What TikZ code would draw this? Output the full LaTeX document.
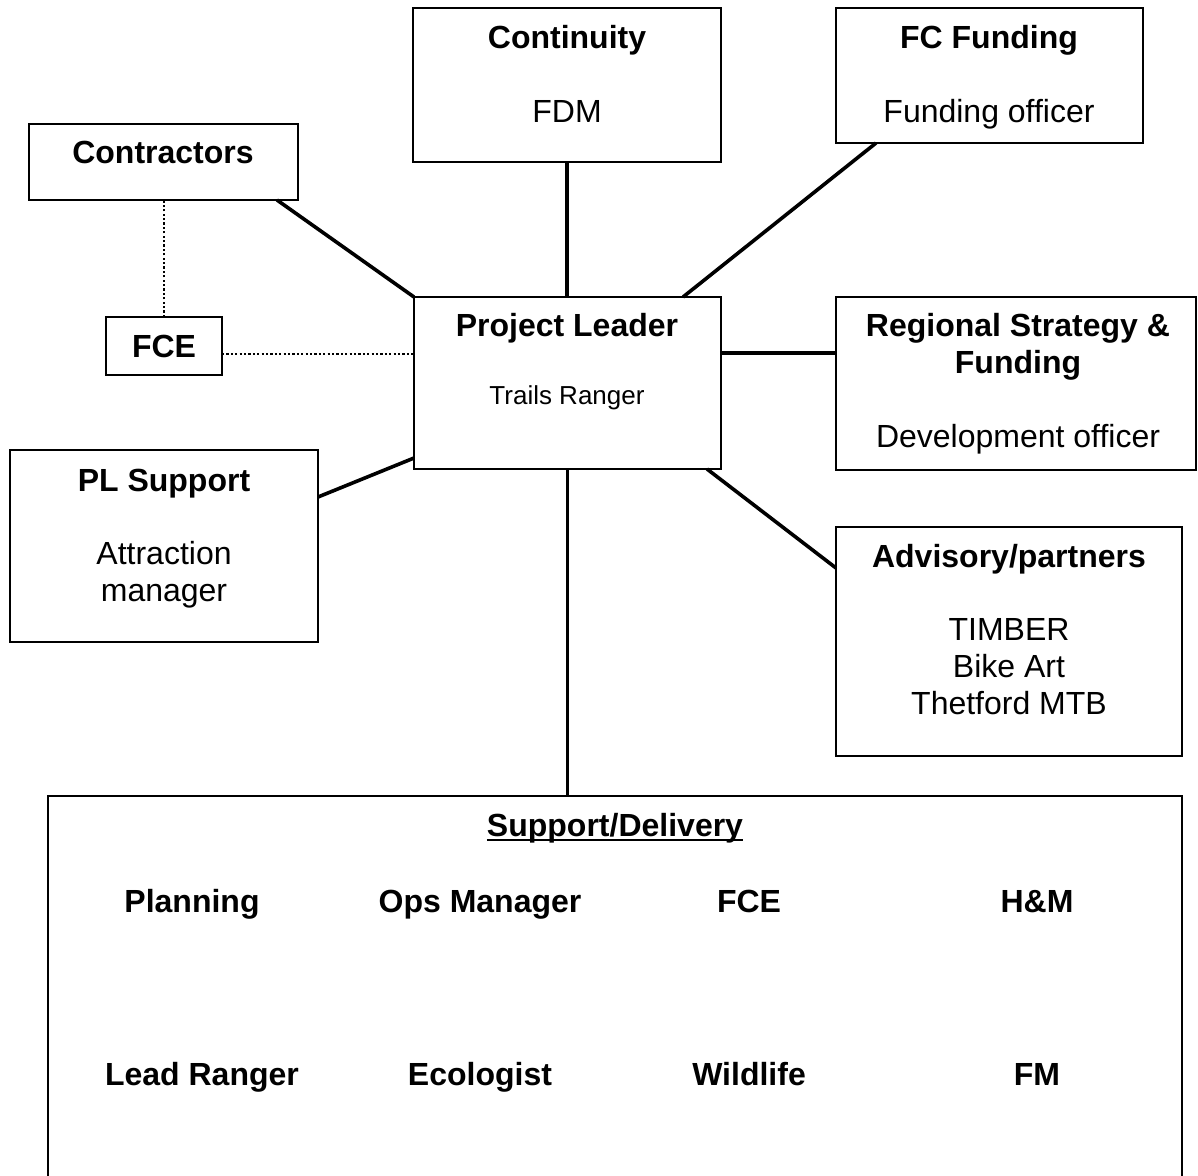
\documentclass[tikz,border=0pt]{standalone}
\usepackage{fontspec}
\setmainfont{Liberation Sans}
\usetikzlibrary{calc}
\tikzset{box/.style 2 args={draw=black,line width=1pt,inner sep=0pt,outer sep=0pt,
    minimum width=#1*0.5pt,minimum height=#2*0.5pt}}
\tikzstyle{head}=[font=\fontsize{16}{19}\selectfont\bfseries,anchor=base,inner sep=0pt]
\tikzstyle{sub}=[font=\fontsize{16}{19}\selectfont,anchor=base,inner sep=0pt]
\tikzstyle{small}=[font=\fontsize{13}{16}\selectfont,anchor=base,inner sep=0pt]
\tikzstyle{link}=[line width=1.8pt]
\tikzstyle{dots}=[line width=1.3pt,dash pattern=on 1.1pt off 1.1pt]
\newcommand{\ulbold}[1]{\setbox0\hbox{#1}\rlap{\rule[-2.6pt]{\wd0}{1.3pt}}\box0}

\begin{document}
\begin{tikzpicture}[x=0.5pt,y=-0.5pt]
    \clip (0,0) rectangle (1198,1175);
    % boxes
    \node[box={308}{154}] (cont) at (567,85) {};
    \node[box={307}{135}] (fcf) at (989.5,75.5) {};
    \node[box={269}{76}] (contr) at (163.5,162) {};
    \node[box={116}{58}] (fce) at (164,346) {};
    \node[box={307}{172}] (pl) at (567.5,383) {};
    \node[box={360}{173}] (reg) at (1016,383.5) {};
    \node[box={308}{192}] (plsup) at (164,546) {};
    \node[box={346}{229}] (adv) at (1009,641.5) {};
    \node[box={1134}{404}] (supp) at (615,998) {};
    % texts
    \node[head] (cont-h) at (567,48) {Continuity};
    \node[sub] (cont-s) at (567,122) {FDM};
    \node[head] (fcf-h) at (989,48) {FC Funding};
    \node[sub] (fcf-s) at (989,122) {Funding officer};
    \node[head] (contr-h) at (163,163) {Contractors};
    \node[head] (fce-h) at (164,357) {FCE};
    \node[head] (pl-h) at (567,336) {Project Leader};
    \node[small] (pl-s) at (567,404) {Trails Ranger};
    \node[head] (reg-h1) at (1018,336) {Regional Strategy \&};
    \node[head] (reg-h2) at (1018,373) {Funding};
    \node[sub] (reg-s) at (1018,447) {Development officer};
    \node[head] (plsup-h) at (164,491) {PL Support};
    \node[sub] (plsup-s1) at (164,564) {Attraction};
    \node[sub] (plsup-s2) at (164,601) {manager};
    \node[head] (adv-h) at (1009,567) {Advisory/partners};
    \node[sub] (adv-s1) at (1009,640) {TIMBER};
    \node[sub] (adv-s2) at (1009,677) {Bike Art};
    \node[sub] (adv-s3) at (1009,714) {Thetford MTB};
    \node[head] (supp-h) at (615,836) {\ulbold{Support/Delivery}};
    \node[head] (plan) at (192,912) {Planning};
    \node[head] (ops) at (480,912) {Ops Manager};
    \node[head] (fce2) at (749,912) {FCE};
    \node[head] (hm) at (1037,912) {H\&M};
    \node[head] (lead) at (202,1085) {Lead Ranger};
    \node[head] (eco) at (480,1085) {Ecologist};
    \node[head] (wild) at (749,1085) {Wildlife};
    \node[head] (fm) at (1037,1085) {FM};
    % connectors
    \coordinate (plr) at ($(pl.east)+(0,-30)$);
    \coordinate (fcer) at ($(fce.east)+(0,8)$);
    \draw[link] ($(contr.south east)+(-21,0)$) -- (pl.north west);
    \draw[link] (cont.south) -- (cont.south |- pl.north);
    \draw[link] ($(fcf.south west)+(40,0)$) -- ($(pl.north east)+(-38,0)$);
    \draw[link] (plr) -- (plr -| reg.west);
    \draw[link] ($(plsup.north east)+(0,47)$) -- ($(pl.south west)+(0,-11)$);
    \draw[link] ($(pl.south east)+(-14,0)$) -- ($(adv.north west)+(0,41)$);
    \draw[link] (pl.south) -- (pl.south |- supp.north);
    \draw[dots] (fcer) -- (fcer -| pl.west);
    \draw[dots] (fce.north) -- (fce.north |- contr.south);
\end{tikzpicture}
\end{document}
